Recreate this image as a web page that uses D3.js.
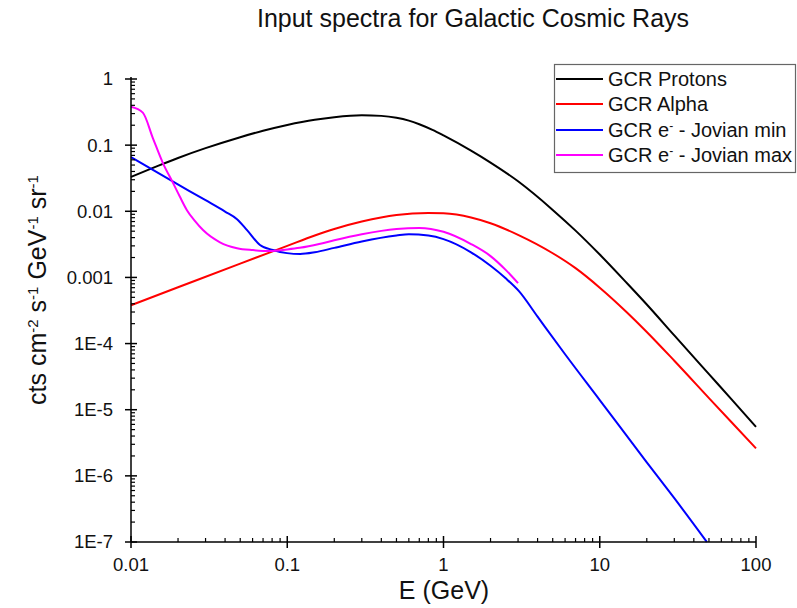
<!DOCTYPE html>
<html>
<head>
<meta charset="utf-8">
<script src="https://cdn.jsdelivr.net/npm/d3@7"></script>
<style>
  html, body { margin: 0; padding: 0; background: #fff; }
  svg { display: block; }
  text { font-family: "Liberation Sans", Arial, sans-serif; }
</style>
</head>
<body>
<svg id="chart" width="797" height="608"></svg>
<script>
// ---- data ----
const title = "Input spectra for Galactic Cosmic Rays";
const xLabel = "E (GeV)";
const seriesNames = ["GCR Protons", "GCR Alpha", "GCR e- - Jovian min", "GCR e- - Jovian max"];
const seriesColors = ["#000000", "#ff0000", "#0000ff", "#ff00ff"];

const xTickValues = [0.01, 0.1, 1, 10, 100];
const xTickLabels = ["0.01", "0.1", "1", "10", "100"];
const yTickValues = [1, 0.1, 0.01, 0.001, 1e-4, 1e-5, 1e-6, 1e-7];
const yTickLabels = ["1", "0.1", "0.01", "0.001", "1E-4", "1E-5", "1E-6", "1E-7"];

const protonE    = [0.01, 0.015, 0.02, 0.03, 0.05, 0.07, 0.1, 0.15, 0.2, 0.3, 0.4, 0.5, 0.6, 0.7, 0.85, 1, 1.5, 2, 3, 5, 7, 10, 15, 20, 30, 50, 70, 100];
const protonFlux = [0.033, 0.049, 0.064, 0.09, 0.132, 0.165, 0.202, 0.242, 0.264, 0.282, 0.277, 0.26, 0.235, 0.207, 0.17, 0.14, 0.0825, 0.0544, 0.0284, 0.0105, 0.0051, 0.00222, 8.1e-4, 3.9e-4, 1.33e-4, 3.45e-5, 1.42e-5, 5.5e-6];

const alphaE    = [0.01, 0.02, 0.05, 0.1, 0.15, 0.2, 0.3, 0.5, 0.8, 1, 1.5, 2, 3, 5, 7, 10, 15, 20, 30, 50, 70, 100];
const alphaFlux = [3.8e-4, 7.1e-4, 1.62e-3, 3.0e-3, 4.3e-3, 5.4e-3, 7.0e-3, 8.8e-3, 9.4e-3, 9.3e-3, 8.07e-3, 6.6e-3, 4.4e-3, 2.32e-3, 1.38e-3, 7.0e-4, 2.93e-4, 1.5e-4, 5.5e-5, 1.5e-5, 6.4e-6, 2.6e-6];

const eMinE    = [0.01, 0.0186, 0.03, 0.04, 0.0477, 0.0553, 0.0669, 0.081, 0.0996, 0.121, 0.15, 0.2, 0.3, 0.5, 0.6, 0.8, 1, 1.5, 2, 2.5, 3.04, 4, 6, 10, 20, 30, 48.5];
const eMinFlux = [0.066, 0.028, 0.0147, 0.0099, 0.0076, 0.0052, 0.0031, 0.0026, 0.00233, 0.00226, 0.0024, 0.0028, 0.0035, 0.0043, 0.0045, 0.0043, 0.0038, 0.0024, 0.0015, 9.7e-4, 6.2e-4, 2.55e-4, 6.9e-5, 1.4e-5, 1.6e-6, 4.6e-7, 1.0e-7];

const eMaxE    = [0.01, 0.0119, 0.0138, 0.016, 0.0186, 0.0206, 0.0228, 0.0257, 0.0289, 0.0371, 0.0477, 0.0604, 0.0774, 0.1, 0.12, 0.16, 0.2, 0.3, 0.5, 0.7, 1, 1.5, 2, 2.5, 3];
const eMaxFlux = [0.38, 0.31, 0.128, 0.0536, 0.0267, 0.0164, 0.0104, 0.0071, 0.0052, 0.0034, 0.00277, 0.00259, 0.0025, 0.00265, 0.0028, 0.0032, 0.00365, 0.0045, 0.0054, 0.0056, 0.0049, 0.0032, 0.0021, 0.0013, 8.2e-4];

const seriesE = [protonE, alphaE, eMinE, eMaxE];
const seriesFlux = [protonFlux, alphaFlux, eMinFlux, eMaxFlux];

// ---- layout ----
const svg = d3.select("#chart");
const pLeft = 131, pRight = 756, pTop = 79, pBottom = 542;

const x = d3.scaleLog().domain([0.01, 100]).range([pLeft, pRight]);
const y = d3.scaleLog().domain([1e-7, 1]).range([pBottom, pTop]);

// title
svg.append("text")
  .attr("x", 473).attr("y", 27)
  .attr("text-anchor", "middle")
  .attr("font-size", 25)
  .attr("fill", "#111")
  .text(title);

// lines
const line = d3.line()
  .x(d => x(d[0]))
  .y(d => y(d[1]))
  .curve(d3.curveMonotoneX);

const gLines = svg.append("g");
seriesE.forEach((es, i) => {
  const pts = es.map((e, j) => [e, seriesFlux[i][j]]);
  gLines.append("path")
    .attr("d", line(pts))
    .attr("fill", "none")
    .attr("stroke", seriesColors[i])
    .attr("stroke-width", 2)
    .attr("stroke-linejoin", "round");
});

// minor tick values
const minor = (lo, hi) => {
  const out = [];
  for (let p = lo; p < hi; p++) for (let k = 2; k <= 9; k++) out.push(k * Math.pow(10, p));
  return out;
};
const xMinor = minor(-2, 2);
const yMinor = minor(-7, 0);

// axes
const gAx = svg.append("g").attr("stroke", "#000").attr("stroke-width", 1.5);
gAx.append("line").attr("x1", pLeft).attr("x2", pRight).attr("y1", pBottom).attr("y2", pBottom);
gAx.append("line").attr("x1", pLeft).attr("x2", pLeft).attr("y1", pTop - 2).attr("y2", pBottom);

// x ticks
gAx.selectAll(".xmaj").data(xTickValues).enter().append("line")
  .attr("x1", d => x(d)).attr("x2", d => x(d))
  .attr("y1", pBottom - 6).attr("y2", pBottom + 6);
gAx.selectAll(".xmin").data(xMinor).enter().append("line")
  .attr("stroke-width", 1.2)
  .attr("x1", d => x(d)).attr("x2", d => x(d))
  .attr("y1", pBottom - 4).attr("y2", pBottom);

// y ticks
gAx.selectAll(".ymaj").data(yTickValues).enter().append("line")
  .attr("y1", d => y(d)).attr("y2", d => y(d))
  .attr("x1", pLeft - 6).attr("x2", pLeft + 6);
gAx.selectAll(".ymin").data(yMinor).enter().append("line")
  .attr("stroke-width", 1.2)
  .attr("y1", d => y(d)).attr("y2", d => y(d))
  .attr("x1", pLeft).attr("x2", pLeft + 4);

// tick labels
svg.append("g").selectAll("text").data(xTickValues).enter().append("text")
  .attr("x", d => x(d)).attr("y", pBottom + 29)
  .attr("text-anchor", "middle")
  .attr("font-size", 18.5)
  .attr("fill", "#111")
  .text((d, i) => xTickLabels[i]);

svg.append("g").selectAll("text").data(yTickValues).enter().append("text")
  .attr("x", pLeft - 18).attr("y", d => y(d))
  .attr("dy", "0.35em")
  .attr("text-anchor", "end")
  .attr("font-size", 18.5)
  .attr("fill", "#111")
  .text((d, i) => yTickLabels[i]);

// axis titles
svg.append("text")
  .attr("x", 444).attr("y", 599)
  .attr("text-anchor", "middle")
  .attr("font-size", 25)
  .attr("fill", "#111")
  .text(xLabel);

const yl = svg.append("text")
  .attr("transform", "translate(46,290) rotate(-90)")
  .attr("text-anchor", "middle")
  .attr("font-size", 25)
  .attr("fill", "#111");
const yParts = [["cts cm", "-2"], [" s", "-1"], [" GeV", "-1"], [" sr", "-1"]];
yParts.forEach(p => {
  yl.append("tspan").text(p[0]);
  yl.append("tspan").attr("baseline-shift", "super").attr("font-size", 15).text(p[1]);
});

// legend
const lg = svg.append("g");
lg.append("rect")
  .attr("x", 554.5).attr("y", 64.5).attr("width", 241).attr("height", 108)
  .attr("fill", "#fff").attr("stroke", "#666").attr("stroke-width", 1.2);
const rowY = [79, 104, 130, 155];
seriesNames.forEach((name, i) => {
  lg.append("line")
    .attr("x1", 556).attr("x2", 603).attr("y1", rowY[i]).attr("y2", rowY[i])
    .attr("stroke", seriesColors[i]).attr("stroke-width", 2);
  const t = lg.append("text")
    .attr("x", 608).attr("y", rowY[i]).attr("dy", "0.36em")
    .attr("font-size", 20).attr("fill", "#111");
  if (i >= 2) {
    t.append("tspan").text("GCR e");
    t.append("tspan").attr("baseline-shift", "super").attr("font-size", 12).text("-");
    t.append("tspan").text(name.replace("GCR e-", ""));
  } else {
    t.text(name);
  }
});
</script>
</body>
</html>
